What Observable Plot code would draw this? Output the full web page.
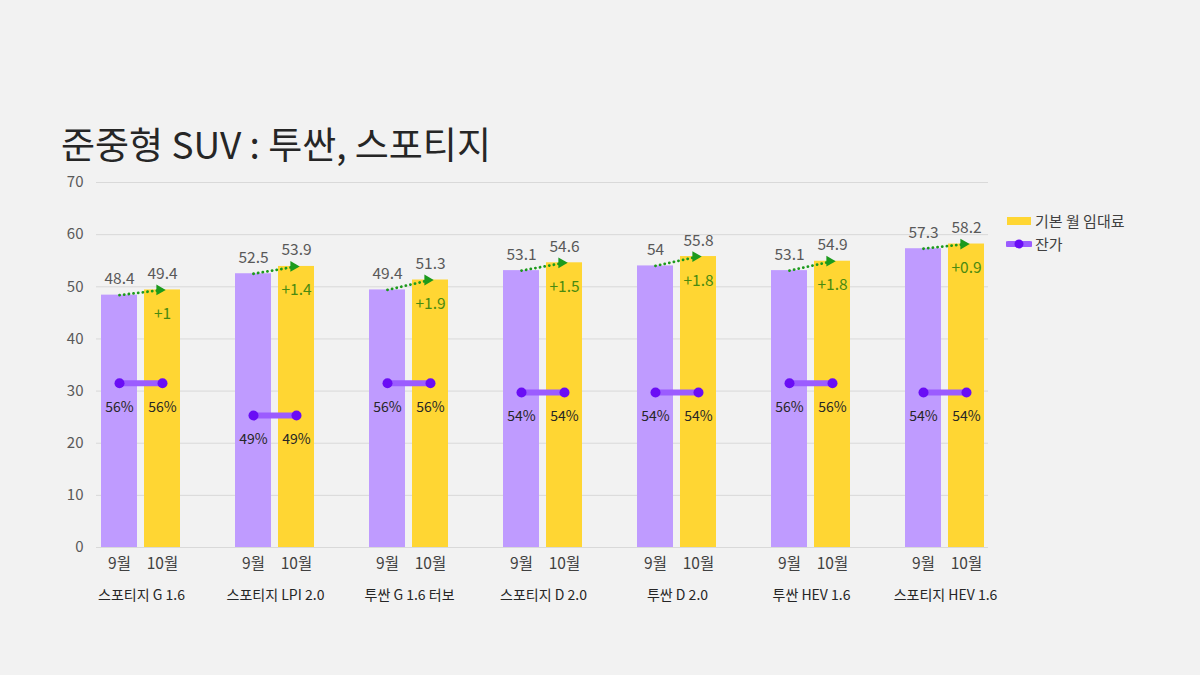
<!DOCTYPE html>
<html>
<head>
<meta charset="utf-8">
<script src="https://cdn.jsdelivr.net/npm/d3@7"></script>
<script src="https://cdn.jsdelivr.net/npm/@observablehq/plot@0.6"></script>
<style>
  body { margin: 0; background: #f2f2f2; font-family: "Noto Sans CJK KR", "Noto Sans", sans-serif; }
  #wrap { position: relative; width: 1200px; height: 675px; overflow: hidden; }
  #title { position: absolute; left: 61px; top: 124px; font-size: 37px; line-height: 38px; font-weight: 400; color: #262626; white-space: nowrap; }
  #chart { position: absolute; left: 0; top: 170px; }
  #legend { position: absolute; left: 1006px; top: 209px; font-size: 15px; color: #404040; }
  #legend div { display: flex; align-items: center; height: 23px; }
  #legend svg { margin-right: 3px; }
</style>
</head>
<body>
<div id="wrap">
  <div id="title">준중형 SUV : 투싼, 스포티지</div>
  <div id="chart"></div>
  <div id="legend">
    <div><svg width="26" height="10"><rect x="1" y="1" width="24" height="8" fill="#ffd633"></rect></svg>기본 월 임대료</div>
    <div><svg width="26" height="12"><line x1="2" x2="24" y1="6" y2="6" stroke="#9b5cff" stroke-width="6" stroke-linecap="round"></line><circle cx="13" cy="6" r="4.5" fill="#6a0df5"></circle></svg>잔가</div>
  </div>
</div>
<script>
// 모델별 9월 / 10월 기본 월 임대료 (만원) 와 잔가 (%)
const groups = ["스포티지 G 1.6", "스포티지 LPI 2.0", "투싼 G 1.6 터보", "스포티지 D 2.0", "투싼 D 2.0", "투싼 HEV 1.6", "스포티지 HEV 1.6"];
const months = ["9월", "10월"];
const sepRent = [48.4, 52.5, 49.4, 53.1, 54, 53.1, 57.3];
const octRent = [49.4, 53.9, 51.3, 54.6, 55.8, 54.9, 58.2];
const sepResidual = [56, 49, 56, 54, 54, 56, 54];
const octResidual = [56, 49, 56, 54, 54, 56, 54];
const yTicks = [0, 10, 20, 30, 40, 50, 60, 70];

const purple = "#bf9bff", yellow = "#ffd633", green = "#1c9a1c";

// 잔가는 보조축 -> 주축 값으로 옮김
const res2y = d3.scaleLinear().domain([49, 56]).range([25.3, 31.5]);

const rows = groups.flatMap((g, i) => [
  { group: g, month: months[0], rent: sepRent[i], res: sepResidual[i] },
  { group: g, month: months[1], rent: octRent[i], res: octResidual[i] }
]);
const pairs = groups.map((g, i) => ({
  group: g, sep: sepRent[i], oct: octRent[i],
  diff: +(octRent[i] - sepRent[i]).toFixed(1),
  sepRes: sepResidual[i], octRes: octResidual[i]
}));

const gridRows = groups.flatMap((g) => yTicks.map((v) => ({ group: g, v })));
const first = groups[0], last = groups[groups.length - 1];

let chart = Plot.plot({
  width: 1200,
  height: 452,
  marginTop: 12,
  marginBottom: 75,
  marginLeft: 73,
  marginRight: 188,
  style: { background: "transparent", fontFamily: "'Noto Sans CJK KR', 'Noto Sans', sans-serif", fontSize: "15px" },
  fx: { domain: groups, padding: 0 },
  x: { domain: months, paddingInner: 0.16, paddingOuter: 0.605 },
  y: { domain: [0, 70] },
  color: { domain: months, range: [purple, yellow] },
  marks: [
    Plot.ruleY(gridRows.filter((d) => d.group === first), { fx: "group", y: "v", stroke: "#d9d9d9", insetLeft: 22 }),
    Plot.ruleY(gridRows.filter((d) => d.group !== first && d.group !== last), { fx: "group", y: "v", stroke: "#d9d9d9" }),
    Plot.ruleY(gridRows.filter((d) => d.group === last), { fx: "group", y: "v", stroke: "#d9d9d9", insetRight: 24 }),
    Plot.barY(rows, { fx: "group", x: "month", y: "rent", fill: "month" }),
    Plot.text(rows, { fx: "group", x: "month", y: "rent", text: (d) => String(d.rent), dy: -16, fill: "#595959", fontSize: 15.5 }),
    Plot.link(pairs, {
      fx: "group", x1: () => months[0], y1: "sep", x2: () => months[1], y2: "oct",
      stroke: green, strokeWidth: 2.8, strokeDasharray: "0.1,4.6", strokeLinecap: "round"
    }),
    Plot.dot(pairs, { fx: "group", x: () => months[1], y: "oct", symbol: "triangle", r: 4, rotate: 90, fill: green, dx: -3 }),
    Plot.text(pairs, { fx: "group", x: () => months[1], y: "oct", text: (d) => "+" + d.diff, dy: 24, fill: "#4a8a10", fontSize: 15.5 }),
    Plot.link(pairs, {
      fx: "group", x1: () => months[0], y1: (d) => res2y(d.sepRes), x2: () => months[1], y2: (d) => res2y(d.octRes),
      stroke: "#9b5cff", strokeWidth: 6
    }),
    Plot.dot(rows, { fx: "group", x: "month", y: (d) => res2y(d.res), r: 5, fill: "#6a0df5" }),
    Plot.text(rows, { fx: "group", x: "month", y: (d) => res2y(d.res), text: (d) => d.res + "%", dy: 24, fill: "#262626", fontSize: 14 }),
    Plot.axisY(yTicks, { tickSize: 0, tickPadding: 0, dx: 9, color: "#595959", label: null, fontSize: 15 }),
    Plot.axisX({ tickSize: 0, tickPadding: 10, color: "#404040", label: null, fontSize: 15.5 }),
    Plot.axisFx({ anchor: "bottom", tickSize: 0, tickPadding: 43, color: "#262626", label: null, fontSize: 14 })
  ]
});
d3.select("#chart").append(() => chart);
</script>
</body>
</html>
